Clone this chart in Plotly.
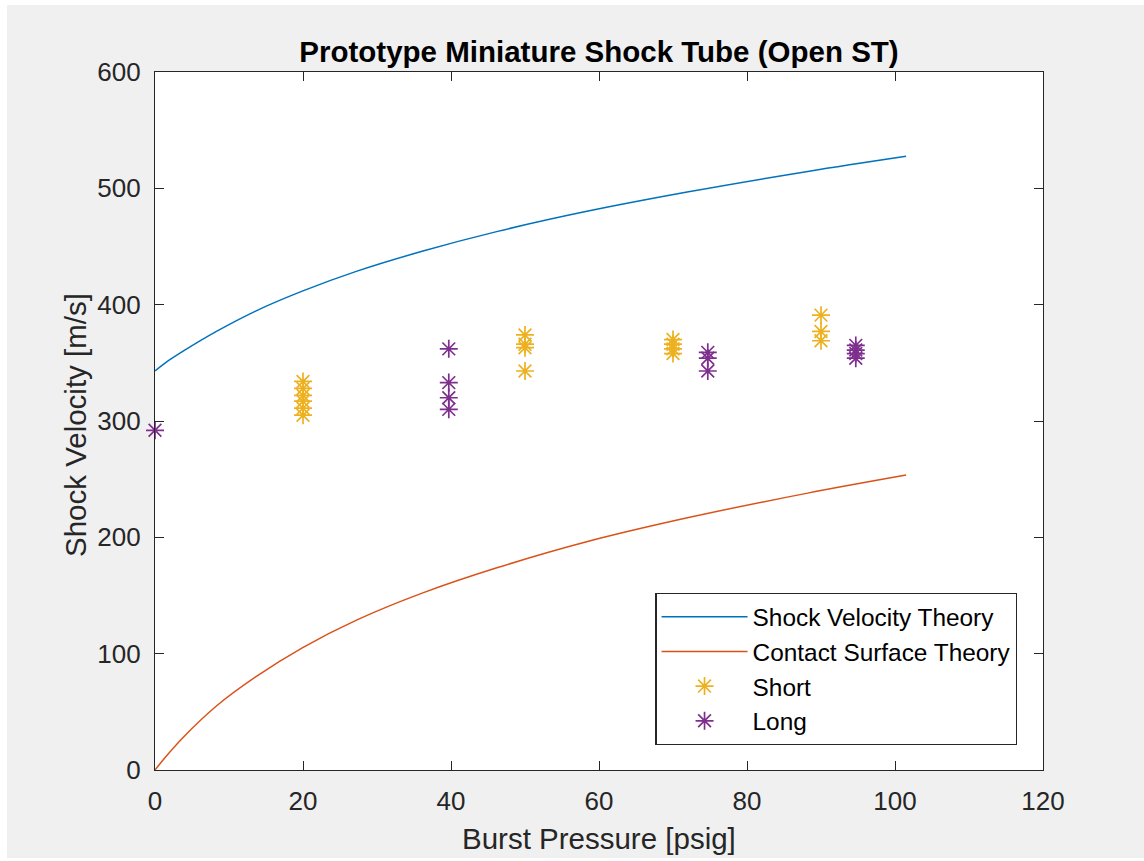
import plotly.graph_objects as go

# Theory curves
theory_psig = [0, 1.4, 3.8, 8.3, 13.6, 19.9, 27.3, 36.1, 46.3, 58.2, 72.1, 88.2, 101.5]
shock_theory = [343, 350, 360, 377, 394.5, 411.6, 428.8, 445.9, 463, 480, 497, 514.5, 527.5]
contact_theory = [0, 11, 28, 55, 80, 105, 129, 152, 174, 196, 217, 238, 253.5]

# Measured data
short_psig = [20, 20, 20, 20, 20, 20, 50, 50, 50, 50, 70, 70, 70, 70, 90, 90, 90]
short_vel = [334, 328, 322, 317, 311, 305, 374, 366, 363, 343, 370, 366, 362, 358, 391, 377, 369]
long_psig = [0, 39.7, 39.7, 39.7, 39.7, 74.7, 74.7, 74.7, 94.7, 94.7, 94.7, 94.7]
long_vel = [292, 362, 333, 320, 310, 359, 354, 343, 365, 361, 358, 354]

x_ticks = [0, 20, 40, 60, 80, 100, 120]
y_ticks = [0, 100, 200, 300, 400, 500, 600]

AX = "#262626"
FONT = "Liberation Sans, Arial, Helvetica, sans-serif"

fig = go.Figure()
fig.add_trace(go.Scatter(x=theory_psig, y=shock_theory, mode="lines", name="Shock Velocity Theory",
                         line=dict(color="#0072BD", width=1.5, shape="spline")))
fig.add_trace(go.Scatter(x=theory_psig, y=contact_theory, mode="lines", name="Contact Surface Theory",
                         line=dict(color="#D95319", width=1.5, shape="spline")))
fig.add_trace(go.Scatter(x=short_psig, y=short_vel, mode="markers", name="Short", cliponaxis=False,
                         marker=dict(symbol="asterisk-open", size=15, color="#EDB120",
                                     line=dict(color="#EDB120", width=1.7))))
fig.add_trace(go.Scatter(x=long_psig, y=long_vel, mode="markers", name="Long", cliponaxis=False,
                         marker=dict(symbol="asterisk-open", size=15, color="#7E2F8E",
                                     line=dict(color="#7E2F8E", width=1.7))))

axis_common = dict(showgrid=False, zeroline=False, showline=True, linecolor=AX, linewidth=1.3,
                   mirror="ticks", ticks="inside", ticklen=9, tickwidth=1.3, tickcolor=AX,
                   tickfont=dict(family=FONT, size=26, color=AX))

fig.update_xaxes(range=[0, 120], tickvals=x_ticks, ticktext=[str(v) for v in x_ticks],
                 ticklabelstandoff=8, **axis_common)
fig.update_yaxes(range=[0, 600], tickvals=y_ticks, ticktext=[str(v) for v in y_ticks],
                 ticklabelstandoff=8, **axis_common)

fig.update_layout(
    width=1144, height=861,
    margin=dict(l=155, r=101, t=72, b=91, autoexpand=False),
    paper_bgcolor="#f0f0f0", plot_bgcolor="white",
    title=dict(text="<b>Prototype Miniature Shock Tube (Open ST)</b>", x=0.5, xref="paper",
               y=1 - 52 / 861, yanchor="middle", xanchor="center",
               font=dict(family=FONT, size=29.5, color="black")),
    legend=dict(x=0.971, xanchor="right", y=(770 - 745) / 698, yanchor="bottom",
                bgcolor="white", bordercolor=AX, borderwidth=1.3,
                font=dict(family=FONT, size=24.4, color="black"), itemwidth=86,
                tracegroupgap=0),
    showlegend=True,
    annotations=[
        dict(text="Burst Pressure [psig]", x=0.5, y=-68 / 698, xref="paper", yref="paper",
             showarrow=False, xanchor="center", yanchor="middle",
             font=dict(family=FONT, size=29.5, color=AX)),
        dict(text="Shock Velocity [m/s]", x=(75 - 155) / 888, y=(770 - 425) / 698, xref="paper", yref="paper",
             showarrow=False, xanchor="center", yanchor="middle", textangle=-90,
             font=dict(family=FONT, size=29.5, color=AX)),
    ],
    shapes=[
        dict(type="rect", xref="paper", yref="paper", x0=-0.2, x1=1.2, y0=(770 - 5) / 698, y1=1.2,
             fillcolor="white", line=dict(width=0), layer="above"),
        dict(type="rect", xref="paper", yref="paper", x0=-0.2, x1=(7 - 155) / 888, y0=-0.2, y1=1.2,
             fillcolor="white", line=dict(width=0), layer="above"),
        dict(type="rect", xref="paper", yref="paper", x0=-0.2, x1=1.2, y0=-0.2, y1=(770 - 858) / 698,
             fillcolor="white", line=dict(width=0), layer="above"),
    ],
)

fig.write_html("out.html")
